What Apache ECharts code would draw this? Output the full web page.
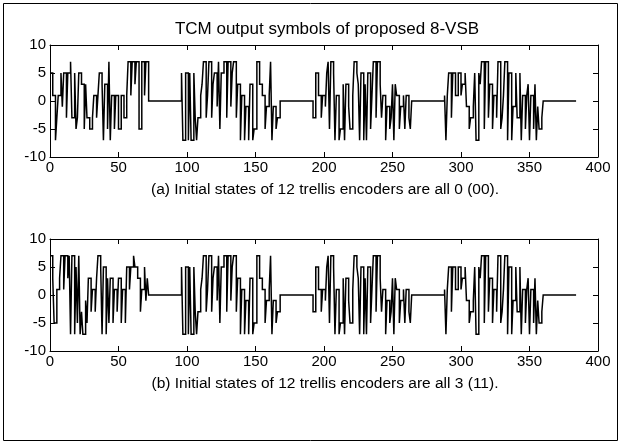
<!DOCTYPE html>
<html><head><meta charset="utf-8">
<script src="https://cdn.jsdelivr.net/npm/echarts@6/dist/echarts.min.js"></script>
<style>html,body{margin:0;padding:0;background:#fff}#c{width:621px;height:444px}</style>
</head><body><div id="c"></div>
<script>
// 8-VSB TCM output symbols, active blocks of 72 symbols followed by 24 zeros
const seg1a = [5,5,1,1, -7,-3, 1,1, 5,-1,5,5,-3,5,5, 7, -3,-3,5,-5,-3,5,5, 3,3,-5,3, -3,-3,-5,-5,-3, 1,1,-3,1, 5,5,3, -7,3,3,-5,7,-7,1,1, -5,1,1,-5,-5,1,1,-3,-3,1, 7,7, 1,7,7,3,7,7,-5,-5,7,7, 1,7,7];
const seg1b = [7,7,3, -5,-5, 1,1,3, 7,7,1,7,7,3,7, -7,7,7,-7,5,-5,7,-7, -3,-7,-7,-1,-5, 3,3,-3,1,1,-3,3, 7,7,5, -7,5,5,-7,3,-5, 3,3,-5,1,1,-3,3,3,-5,1,1,-5, 5,5,1,5,5,7,5,5, 3,3,-3,1,1,5,-1,3];
const seg2 = [5,-7,-7,5,5,-7,5,-7,-7,5, -3,-7,-3,-3, 1,3, 7,7,-3,1,7,7,-3, 3,5,5,-1, 7,-5,5,5, 7,7,-3,7,7,-1,5,7,7,-3, 3,3,-7,1,1,-7, -1,-1,-7,3,3,-7,-5,-5, 7,7, 3,3,1, 1,-5,-1,-1,1, 7, -7,-1,-1,-5,-3,-3];
const seg3 = [-3,-3, 5,5, 1,1,-3,1,1,-1, 5,7, -5,7,7,5, -7,1,1,-7,-5,-5, 3,-7,3,3, -1,-5,-5,1, 7,7,5, 3,-7,5,5,-7,3,-7,5,5,-5,1, 7,7,-3,7,7,3,-3, 1,1,-7,-1,-1,-5,-3, 3,-7,3, 1,1,-5,-1,-1,1,-5,1,1,-3,-5];
const seg4 = [1,-7,1, 5,5,-3,5,5,1, 1,5,5,1,3,3,5, -1,-1,-5,-3,-3,-1, 5,-7,-7,5,3, 7,7,-5,7,7,-3, 3,3,-5,1,1,-3,7,7,-5,-3,1, 7,7,-7,5, 5,-7,-1,-1,5,-3,-3,5,-7,1,1,-5,1, 3,-7,1,1,-5,3,-7, -1,-5,-5,-3];
const gapLen = 24;
const xTickValues = [0,50,100,150,200,250,300,350,400];
const yTickValues = [-10,-5,0,5,10];
const titleText = 'TCM output symbols of proposed 8-VSB';
const captionA = '(a) Initial states of 12 trellis encoders are all 0 (00).';
const captionB = '(b) Initial states of 12 trellis encoders are all 3 (11).';

// stairs: each symbol value held from index k to k+1
function build(segs){
  const vals = [];
  segs.forEach(s => { s.forEach(v => vals.push(v)); for (let i=0;i<gapLen;i++) vals.push(0); });
  const pts = [];
  vals.forEach((v,i) => { pts.push([i, v]); pts.push([i+1, v]); });
  return pts;
}
const dataA = build([seg1a, seg2, seg3, seg4]);
const dataB = build([seg1b, seg2, seg3, seg4]);

const FONT = 'Liberation Sans, Arial, sans-serif';
const lab = {color:'#000', fontSize:15, fontFamily:FONT};
function xAx(grid, pos, show){
  return {type:'value', gridIndex:grid, position:pos, min:xTickValues[0], max:xTickValues[xTickValues.length-1], interval:50,
    axisLine:{onZero:false, lineStyle:{color:'#000', width:1}}, axisTick:{inside:true, length:5, lineStyle:{color:'#000'}},
    axisLabel:Object.assign({show:show, margin:3}, lab), splitLine:{show:false}};
}
function yAx(grid, pos, show){
  return {type:'value', gridIndex:grid, position:pos, min:yTickValues[0], max:yTickValues[yTickValues.length-1], interval:5,
    axisLine:{onZero:false, lineStyle:{color:'#000', width:1}}, axisTick:{inside:true, length:5, lineStyle:{color:'#000'}},
    axisLabel:Object.assign({show:show, margin:4}, lab), splitLine:{show:false}};
}
const chart = echarts.init(document.getElementById('c'), null, {renderer:'canvas'});
chart.setOption({
  animation:false, backgroundColor:'#fff',
  grid:[{left:50, top:45, width:548, height:112},{left:50, top:239, width:548, height:112}],
  xAxis:[xAx(0,'bottom',true), xAx(0,'top',false), xAx(1,'bottom',true), xAx(1,'top',false)],
  yAxis:[yAx(0,'left',true), yAx(0,'right',false), yAx(1,'left',true), yAx(1,'right',false)],
  title:[
    {text:titleText, left:322, top:16, textAlign:'center', textStyle:{color:'#000', fontSize:17, fontWeight:'normal', fontFamily:FONT}},
    {text:captionA, left:320, top:177, textAlign:'center', textStyle:{color:'#000', fontSize:15.5, fontWeight:'normal', fontFamily:FONT}},
    {text:captionB, left:320, top:371, textAlign:'center', textStyle:{color:'#000', fontSize:15.5, fontWeight:'normal', fontFamily:FONT}}
  ],
  graphic:[{type:'rect', shape:{x:3.5, y:3.5, width:614, height:437}, style:{fill:'none', stroke:'#000', lineWidth:1}, silent:true}],
  series:[
    {type:'line', xAxisIndex:0, yAxisIndex:0, data:dataA, showSymbol:false, lineStyle:{color:'#000', width:1.5, join:'miter', cap:'butt'}},
    {type:'line', xAxisIndex:2, yAxisIndex:2, data:dataB, showSymbol:false, lineStyle:{color:'#000', width:1.5, join:'miter', cap:'butt'}}
  ]
});
</script></body></html>
